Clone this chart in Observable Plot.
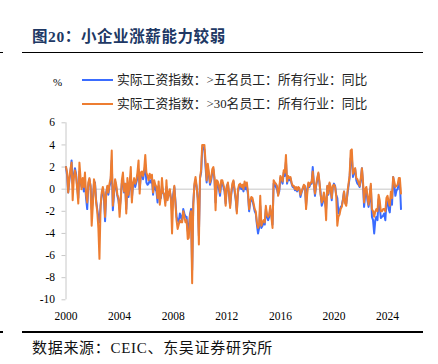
<!DOCTYPE html>
<html>
<head>
<meta charset="utf-8">
<script src="https://cdn.jsdelivr.net/npm/d3@7"></script>
<script src="https://cdn.jsdelivr.net/npm/@observablehq/plot@0.6"></script>
<style>
  html, body { margin: 0; padding: 0; background: #fff; }
  #wrap { position: relative; width: 438px; height: 364px; overflow: hidden; font-family: "Liberation Serif", "Noto Sans CJK SC", serif; }
  .abs { position: absolute; white-space: nowrap; }
  #title { left: 32px; top: 27px; font-size: 15.5px; line-height: 20px; font-weight: bold; color: #203864; letter-spacing: 0.6px; }
  .rule { position: absolute; background: #000; height: 1.5px; }
  .leg { font-size: 12.8px; line-height: 16px; color: #222; }
  .sw { position: absolute; height: 2.2px; width: 31px; }
  #foot { left: 32px; top: 338px; font-size: 15px; line-height: 20px; color: #111; letter-spacing: 0.7px; }
  #chart { position: absolute; left: 0; top: 110px; }
</style>
</head>
<body>
<div id="wrap">
  <div id="title" class="abs">图20：小企业涨薪能力较弱</div>
  <div class="rule" style="left:22px;top:51.5px;width:401px;"></div>
  <div class="rule" style="left:0px;top:51.5px;width:3px;"></div>
  <div class="abs" style="left:53px;top:75px;font-size:11px;line-height:14px;">%</div>
  <div class="sw" style="left:82px;top:79px;background:#3a6cff;"></div>
  <div class="abs leg" style="left:117px;top:72px;">实际工资指数：&gt;五名员工：所有行业：同比</div>
  <div class="sw" style="left:82px;top:103.3px;background:#ed7d31;"></div>
  <div class="abs leg" style="left:117px;top:96.3px;">实际工资指数：&gt;30名员工：所有行业：同比</div>
  <div id="chart"></div>
  <div class="rule" style="left:22px;top:331px;width:401px;"></div>
  <div class="rule" style="left:0px;top:331px;width:3px;"></div>
  <div id="foot" class="abs">数据来源：CEIC、东吴证券研究所</div>
</div>
<script>
// Monthly values, Jan 2000 .. Jan 2025
const seriesNames = ["实际工资指数：>五名员工：所有行业：同比", "实际工资指数：>30名员工：所有行业：同比"];
const blue = [
  2.0, 1.2, -0.3, 0.8, 1.5, 2.6, 0.5, 1.2, 1.9, 1.4, 0.2, -0.8,
  1.6, 0.6, 0.2, 0.8, -0.2, 0.5, -0.8, -1.8, 0.4, 0.9, 0.3, -1.8,
  -1.0, 0.5, 0.6, -1.0, -1.8, -2.5, -3.0, -1.5, -0.5, 0.0, -0.8, -2.9,
  -0.3, 0.2, -0.5, 0.3, 0.6, 2.6, -1.9, -0.5, 0.7, 0.2, -0.6, -1.0,
  -1.8, -0.8, 0.5, 1.0, -0.3, 0.5, -1.8, 0.5, -0.7, 0.3, 1.2, -0.8,
  0.3, 0.8, 0.2, 0.6, 1.0, 1.8, 0.0, 1.2, 1.4, 0.9, 1.5, 2.2,
  0.6, 0.4, 0.5, 0.8, 0.6, 1.0, -0.5, 0.5, 0.0, -0.2, -1.2, 0.3,
  -0.5, -0.8, 0.3, -0.3, -0.5, -1.2, 0.2, -0.8, -0.5, -0.2, -0.8, -2.0,
  -0.5, 0.2, -1.0, -2.5, -2.8, -3.0, -2.2, -2.5, -2.8, -1.8, -2.2, -2.5,
  -2.5, -3.8, -3.5, -2.3, -1.8, -7.3, -1.3, 0.3, 0.8, 0.2, -0.8, -4.2,
  1.0, 1.5, 3.5, 3.8, 3.6, 2.0, 0.6, 2.0, 1.2, 0.4, 0.8, 1.5,
  1.8, 0.8, -1.2, 0.2, 0.5, 0.0, -0.6, 0.5, 0.6, 0.2, -0.2, -1.3,
  0.3, 0.5, -0.5, -1.5, -0.5, 0.3, 0.7, -0.2, -1.0, -2.0, -0.3, 0.2,
  0.3, 0.0, 0.2, -0.2, 0.5, 0.0, 0.3, -0.5, -2.0, -1.2, -0.9, -1.0,
  -1.5, -2.0, -2.2, -3.2, -4.0, -3.5, -1.5, -3.5, -3.3, -3.0, -3.2, -1.8,
  -2.5, -2.8, -2.5, -1.8, -2.3, -3.2, 0.5, 0.4, 0.2, 0.0, -0.5, -0.2,
  1.0, 0.8, 0.5, 1.5, 1.2, 2.5, 0.5, 1.0, 0.8, 1.0, 0.5, 0.2,
  0.2, -0.1, 0.0, -0.2, 0.1, 0.0, -0.7, -0.3, 0.0, 0.3, 0.2, -1.5,
  0.0, 0.5, 0.2, 0.5, 0.5, 2.0, 0.6, -0.6, 0.3, 0.8, 1.4, 0.5,
  -0.3, -1.5, -1.2, -0.5, -1.2, -1.8, 0.2, -0.5, 0.5, 0.0, -1.0, 0.2,
  0.5, 0.3, -0.5, -0.8, -2.2, -2.0, -1.6, -1.5, -0.9, -0.2, -1.2, -1.3,
  -0.5, 0.3, 1.0, 2.8, 3.0, 1.1, 1.5, 1.8, 0.8, 0.5, 0.4, 0.2,
  0.8, 1.9, 0.5, -1.6, -0.5, 0.0, -1.0, -1.6, -0.9, 0.3, -2.5, -2.8,
  -4.0, -2.8, -2.5, -2.8, -0.9, -1.6, -2.6, -2.5, -2.4, -2.2, -2.8, -1.2,
  -1.1, -1.8, -2.1, -0.7, -1.4, 1.1, 0.4, -0.6, -0.1, 0.0, 0.5, 0.6,
  -1.8
];
const orange = [
  2.0, 1.5, -0.3, 1.0, 1.8, 2.4, -1.0, 1.0, 1.7, 1.2, 0.0, -1.3,
  2.4, 1.0, 0.0, 1.0, 0.2, 1.5, -0.5, -1.2, 0.6, 1.0, 0.2, -3.3,
  -1.5, 0.9, 0.5, -1.2, -2.0, -3.5, -6.3, -1.5, -0.3, 0.2, -0.5, -2.5,
  -0.5, 0.3, -0.3, 0.5, 1.0, 3.5, -1.5, -0.3, 0.9, 0.4, -0.5, -0.8,
  -2.5, -1.0, 0.8, 1.5, -0.2, 0.5, -2.2, 1.0, -0.5, 0.5, 2.0, -1.2,
  0.5, 1.0, 0.5, 0.8, 1.5, 2.6, -0.4, 1.5, 1.6, 1.2, 1.8, 3.1,
  1.5, 1.2, 0.8, 1.4, 1.0, 1.3, -0.3, 0.8, 0.4, 0.2, -0.8, 0.7,
  -1.4, -0.6, 1.0, -0.3, -0.5, -1.5, 0.8, -1.0, -0.3, 0.0, -1.0, -4.0,
  -0.8, 0.3, -1.2, -2.8, -3.6, -3.2, -2.8, -3.0, -3.0, -2.0, -2.5, -3.0,
  -2.8, -4.5, -4.4, -2.5, -2.0, -8.5, -1.5, 0.5, 1.1, 0.3, -1.0, -5.0,
  1.0, 1.8, 4.0, 4.0, 4.0, 2.5, 0.8, 2.3, 1.5, 0.6, 1.0, 1.8,
  2.0, 1.0, -1.9, 0.8, 0.7, 0.3, -0.3, 0.8, 0.8, 0.4, 0.0, -1.5,
  0.2, 0.6, -0.3, -1.7, -0.3, 0.5, 0.8, 0.0, -0.8, -2.2, 0.0, 0.4,
  0.5, 0.2, 0.4, 0.0, 0.7, 0.3, 0.6, -0.3, -1.8, -1.0, -0.7, -0.8,
  -1.3, -1.8, -2.0, -3.0, -3.5, -3.2, -0.6, -3.3, -3.0, -2.8, -3.0, -1.5,
  -2.3, -2.5, -2.3, -1.5, -2.5, -3.5, 0.8, 0.6, 0.5, 0.3, -0.6, 0.0,
  1.2, 1.0, 0.7, 1.7, 1.5, 3.1, 0.7, 1.2, 1.0, 1.1, 0.6, 0.3,
  0.3, 0.0, 0.2, -0.1, 0.2, 0.1, -0.5, -0.2, 0.1, 0.4, 0.3, -1.8,
  -0.5, 0.6, 0.3, 0.6, 0.6, 1.6, 0.5, -0.4, 0.4, 1.0, 1.5, 0.7,
  -0.5, -1.2, -1.0, -0.3, -1.0, -2.8, 0.3, -0.4, 0.6, 0.2, -0.8, 0.3,
  0.4, 0.2, -0.6, -3.3, -2.5, -2.3, -1.8, -1.6, -1.0, -0.2, -1.3, -1.5,
  -0.3, 0.5, 1.2, 3.5, 3.6, 1.4, 1.7, 1.9, 1.0, 0.9, 0.6, 0.3,
  1.0, 1.9, 0.8, -1.2, 0.0, 0.2, -0.6, -1.4, -0.5, 0.5, -1.8, -2.0,
  -2.5, -2.0, -1.8, -2.0, -0.5, -1.0, -2.0, -2.0, -1.8, -1.8, -2.0, -0.8,
  -0.6, -1.2, -1.5, -0.2, -0.8, 1.1, 0.7, 0.2, 0.3, 0.4, 1.0, 1.0,
  -0.4
];
const xTickYears = [2000, 2004, 2008, 2012, 2016, 2020, 2024];
const yTicks = [-10, -8, -6, -4, -2, 0, 2, 4, 6];

const dates = d3.utcMonth.range(new Date(Date.UTC(2000, 0, 1)), new Date(Date.UTC(2025, 1, 1)));
const rows = dates.map((d, i) => ({date: d, blue: blue[i], orange: orange[i]}));
const x0 = new Date(Date.UTC(2000, 0, 1));
const x1 = new Date(Date.UTC(2025, 0, 1));

const chart = Plot.plot({
  width: 438,
  height: 215,
  marginLeft: 65.5,
  marginRight: 37.5,
  marginTop: 12.3,
  marginBottom: 25.7,
  style: {fontFamily: "'Liberation Serif', 'Times New Roman', serif", fontSize: "11.5px", color: "#000", background: "transparent", overflow: "visible"},
  x: {type: "utc", domain: [x0, x1]},
  y: {domain: [-10, 6]},
  marks: [
    Plot.ruleY([0], {stroke: "#d9d9d9", strokeWidth: 1.6}),
    Plot.ruleX([x0], {stroke: "#c8c8c8", strokeWidth: 1}),
    Plot.axisY({ticks: yTicks, tickSize: 4, tickPadding: 7, stroke: "#c8c8c8", fill: "#000", label: null, tickFormat: d => String(d)}),
    Plot.axisX({ticks: xTickYears.map(y => new Date(Date.UTC(y, 0, 1))), tickSize: 0, tickPadding: 12, fill: "#000", label: null, tickFormat: d3.utcFormat("%Y")}),
    Plot.lineY(rows, {x: "date", y: "blue", stroke: "#3a6cff", strokeWidth: 2}),
    Plot.lineY(rows, {x: "date", y: "orange", stroke: "#ed7d31", strokeWidth: 2})
  ]
});
document.getElementById("chart").appendChild(chart);
</script>
</body>
</html>
